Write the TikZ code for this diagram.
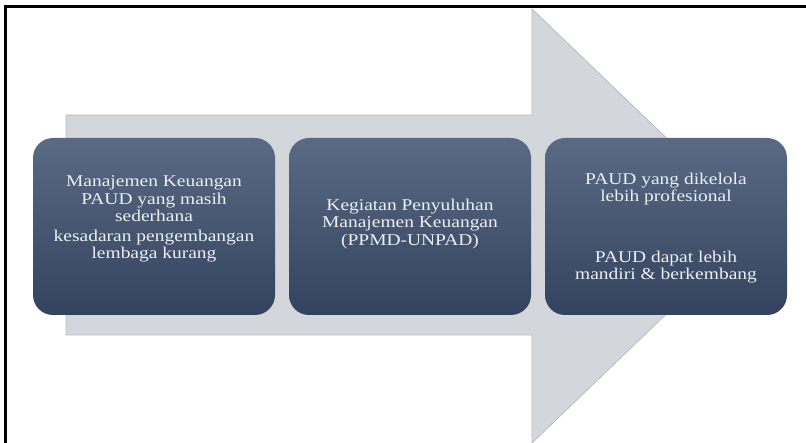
\documentclass[tikz,border=0pt]{standalone}
\usepackage{fontspec}
\setmainfont{Liberation Serif}
\newfontfamily\boxfont[FakeStretch=1.18]{Liberation Serif}
\definecolor{arrowfill}{HTML}{D3D6DA}
\definecolor{arrowedge}{HTML}{B9BDC3}
\definecolor{boxtop}{HTML}{5A6984}
\definecolor{boxbot}{HTML}{33435D}
\definecolor{boxtext}{HTML}{ECEFF4}
\tikzset{
  stepbox/.style={rectangle, rounded corners=20pt, minimum width=242pt, minimum height=177pt,
    top color=boxtop, bottom color=boxbot, draw=none, inner sep=0pt},
  boxlabel/.style={text=boxtext, font=\boxfont\fontsize{16.5}{17.5}\selectfont, align=center, inner sep=0pt},
  frameline/.style={line width=3pt, black}
}
\begin{document}
\begin{tikzpicture}[x=1pt,y=-1pt]
\useasboundingbox (0,0) rectangle (806,443);
\fill[white] (0,0) rectangle (806,443);
% big arrow
\filldraw[fill=arrowfill, draw=arrowedge, line width=0.8pt]
  (66,115) -- (532,115) -- (532,9) -- (758,226) -- (532,443) -- (532,335) -- (66,335) -- cycle;
% frame (top and left)
\draw[frameline] (4,7) -- (806,7);
\draw[frameline] (5.5,5.5) -- (5.5,443);
% boxes
\node[stepbox] (b1) at (154,226.5) {};
\node[stepbox] (b2) at (410,226.5) {};
\node[stepbox] (b3) at (666,226.5) {};
% labels
\node[boxlabel] (t1a) at (154,199) {Manajemen Keuangan\\PAUD yang masih\\sederhana};
\node[boxlabel] (t1b) at (154,246) {kesadaran pengembangan\\lembaga kurang};
\node[boxlabel] (t2) at (410,224) {\fontsize{16.5}{21.5}\selectfont Kegiatan Penyuluhan\\Manajemen Keuangan\\(PPMD-UNPAD)};
\node[boxlabel] (t3a) at (666,189) {\fontsize{16.5}{21}\selectfont PAUD yang dikelola\\lebih profesional};
\node[boxlabel] (t3b) at (666,267) {\fontsize{16.5}{20}\selectfont PAUD dapat lebih\\mandiri \& berkembang};
\end{tikzpicture}
\end{document}
